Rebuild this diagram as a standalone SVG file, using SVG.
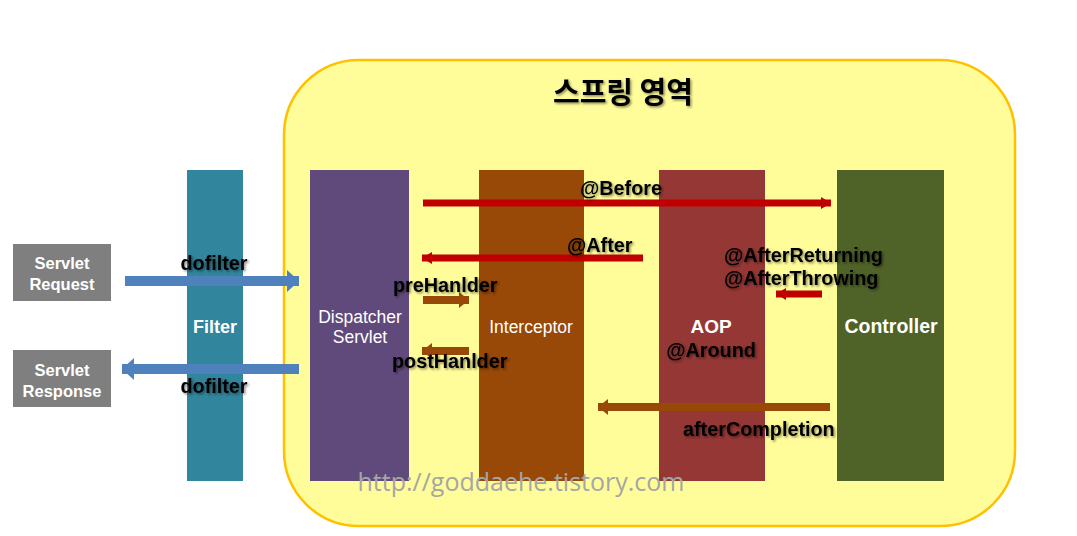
<svg xmlns="http://www.w3.org/2000/svg" width="1077" height="536" viewBox="0 0 1077 536">
<defs>
<style>
.lbl{font-family:"Liberation Sans","Noto Sans CJK KR",sans-serif;font-weight:bold;font-size:19.8px;fill:#000;filter:url(#sh)}
.wt{font-family:"Liberation Sans",sans-serif;fill:#fff;text-anchor:middle}
.red{stroke:#C00000;stroke-width:7;fill:none}
.brn{stroke:#984807;stroke-width:8;fill:none}
.blu{stroke:#4F81BD;stroke-width:10;fill:none}
</style>
<filter id="sh" x="-10%" y="-30%" width="130%" height="170%">
<feDropShadow dx="1.5" dy="1.5" stdDeviation="1.2" flood-color="#000" flood-opacity="0.45"/>
</filter>
<marker id="mr" markerUnits="userSpaceOnUse" markerWidth="12" markerHeight="16" refX="10" refY="8" orient="auto"><path d="M0,2 L10,8 L0,14 Z" fill="#C00000"/></marker>
<marker id="mb" markerUnits="userSpaceOnUse" markerWidth="12" markerHeight="20" refX="10" refY="10" orient="auto"><path d="M0,2 L10,10 L0,18 Z" fill="#984807"/></marker>
<marker id="ml" markerUnits="userSpaceOnUse" markerWidth="14" markerHeight="26" refX="12" refY="13" orient="auto"><path d="M0,2 L12,13 L0,24 Z" fill="#4F81BD"/></marker>
</defs>
<rect width="1077" height="536" fill="#fff"/>
<g id="spring-area">
<rect x="284" y="60" width="731" height="466" rx="75" ry="75" fill="#FFFC9A" stroke="#FFC000" stroke-width="2.5"/>
<text x="623" y="103" text-anchor="middle" style="font-family:'Noto Sans CJK KR',sans-serif;font-weight:bold;font-size:29px;fill:#000;filter:url(#sh)">스프링 영역</text>
</g>
<g id="servlet-request">
<rect x="13" y="244" width="98" height="57" fill="#7F7F7F"/>
<text class="wt" x="62" y="269" font-size="16.5" font-weight="bold">Servlet</text>
<text class="wt" x="62" y="290" font-size="16.5" font-weight="bold">Request</text>
</g>
<g id="servlet-response">
<rect x="13" y="350" width="98" height="57" fill="#7F7F7F"/>
<text class="wt" x="62" y="376" font-size="16.5" font-weight="bold">Servlet</text>
<text class="wt" x="62" y="397" font-size="16.5" font-weight="bold">Response</text>
</g>
<g id="filter">
<rect x="187" y="170" width="56" height="311" fill="#31859C"/>
<text class="wt" x="215" y="333" font-size="18" font-weight="bold">Filter</text>
</g>
<g id="dispatcher">
<rect x="310" y="170" width="99" height="311" fill="#604A7B"/>
<text class="wt" x="360" y="323" font-size="17.5">Dispatcher</text>
<text class="wt" x="360" y="343" font-size="17.5">Servlet</text>
</g>
<g id="interceptor">
<rect x="479" y="170" width="105" height="311" fill="#984807"/>
<text class="wt" x="531" y="333" font-size="17.5">Interceptor</text>
</g>
<g id="aop">
<rect x="659" y="170" width="106" height="311" fill="#953735"/>
<text class="wt" x="711" y="333" font-size="19" font-weight="bold">AOP</text>
</g>
<g id="controller">
<rect x="837" y="170" width="107" height="311" fill="#4F6228"/>
<text class="wt" x="891" y="333" font-size="19.5" font-weight="bold">Controller</text>
</g>
<g id="connectors">
<line class="blu" x1="125" y1="281" x2="299" y2="281" marker-end="url(#ml)"/>
<line class="blu" x1="299" y1="369" x2="122" y2="369" marker-end="url(#ml)"/>
<line class="red" x1="423" y1="203" x2="831" y2="203" marker-end="url(#mr)"/>
<line class="red" x1="643" y1="258" x2="422" y2="258" marker-end="url(#mr)"/>
<line class="red" x1="822" y1="294" x2="776" y2="294" marker-end="url(#mr)"/>
<line class="brn" x1="423" y1="300" x2="469" y2="300" marker-end="url(#mb)"/>
<line class="brn" x1="469" y1="351" x2="422" y2="351" marker-end="url(#mb)"/>
<line class="brn" x1="830" y1="407" x2="598" y2="407" marker-end="url(#mb)"/>
</g>
<g id="labels">
<text class="lbl" x="214" y="270" text-anchor="middle">dofilter</text>
<text class="lbl" x="214" y="393" text-anchor="middle">dofilter</text>
<text class="lbl" x="580" y="195">@Before</text>
<text class="lbl" x="567" y="252">@After</text>
<text class="lbl" x="393" y="292">preHanlder</text>
<text class="lbl" x="392" y="368">postHanlder</text>
<text class="lbl" x="724" y="262">@AfterReturning</text>
<text class="lbl" x="724" y="285">@AfterThrowing</text>
<text class="lbl" x="711" y="357" text-anchor="middle">@Around</text>
<text class="lbl" x="683" y="436">afterCompletion</text>
</g>
<text x="521" y="491" text-anchor="middle" style="font-family:'Open Sans','DejaVu Sans',sans-serif;font-size:25px;fill:#A6A6A6">http://goddaehe.tistory.com</text>
</svg>
